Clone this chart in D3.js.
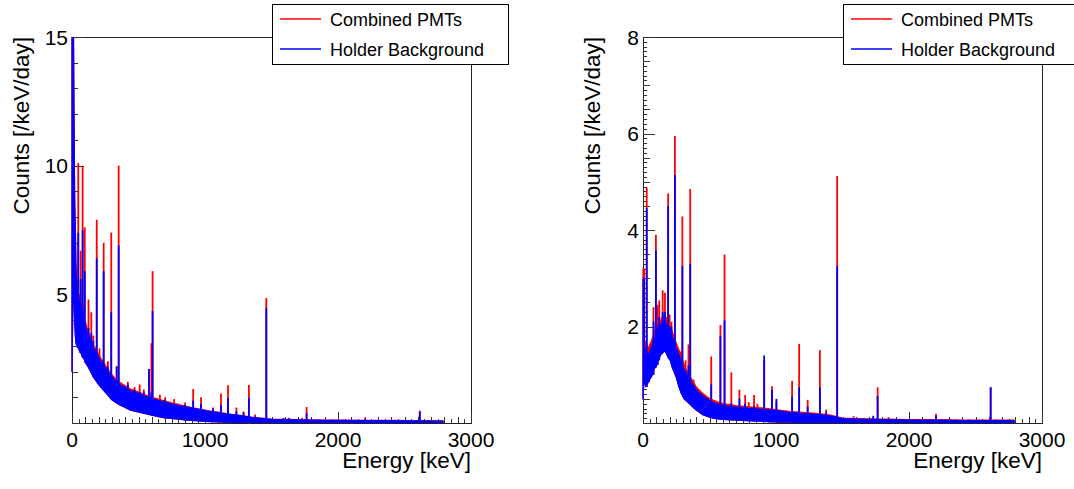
<!DOCTYPE html>
<html>
<head>
<meta charset="utf-8">
<script src="https://d3js.org/d3.v7.min.js"></script>
<style>
  body { margin: 0; background: #fff; }
  text { font-family: "Liberation Sans", Arial, Helvetica, sans-serif; fill: #000; }
</style>
</head>
<body>
<div id="chart"></div>
<script>
// ---------- left pad: continuum band (energy in keV, counts /keV/day) ----------
const leftEnergy = [0, 5, 10, 15, 20, 25, 30, 40, 50, 60, 70, 80, 90, 100, 120, 140, 160, 180, 200, 225,
  250, 275, 300, 330, 360, 400, 440, 480, 520, 560, 600, 650, 700, 750, 800, 850, 900, 950, 1000, 1050,
  1100, 1150, 1200, 1250, 1300, 1350, 1400, 1460, 1500, 1600, 1700, 1800, 1900, 2000, 2200, 2400, 2600, 2790];
const leftBandLow = [2.0, 4.0, 5.5, 5.0, 4.0, 3.4, 3.1, 2.95, 2.9, 2.75, 2.7, 2.55, 2.5, 2.35, 2.2, 2.0, 1.8, 1.65, 1.5, 1.35,
  1.2, 1.05, 0.9, 0.8, 0.7, 0.6, 0.5, 0.45, 0.4, 0.35, 0.3, 0.25, 0.2, 0.18, 0.15, 0.12, 0.1, 0.08, 0.06, 0.05,
  0.04, 0.03, 0.03, 0.02, 0.02, 0.01, 0.01, 0, 0, 0, 0, 0, 0, 0, 0, 0, 0, 0];
const leftBlueHigh = [16, 16, 16, 12, 8.5, 7.5, 5.8, 5.2, 4.6, 4.8, 4.3, 4.4, 3.9, 3.8, 3.4, 3.2, 2.9, 2.8, 2.55, 2.35,
  2.15, 1.95, 1.8, 1.62, 1.5, 1.38, 1.25, 1.18, 1.1, 1.02, 0.95, 0.88, 0.8, 0.74, 0.68, 0.63, 0.58, 0.53, 0.48, 0.43,
  0.4, 0.36, 0.33, 0.3, 0.26, 0.22, 0.19, 0.16, 0.14, 0.13, 0.12, 0.11, 0.1, 0.1, 0.09, 0.09, 0.08, 0.07];
const leftRedHigh = [16, 16, 16, 12.5, 9, 7.8, 6.2, 5.5, 4.9, 5.0, 4.5, 4.6, 4.1, 3.95, 3.55, 3.35, 3.0, 2.9, 2.65, 2.45,
  2.25, 2.05, 1.88, 1.7, 1.58, 1.45, 1.32, 1.24, 1.16, 1.08, 1.0, 0.93, 0.85, 0.78, 0.72, 0.66, 0.6, 0.55, 0.5, 0.45,
  0.42, 0.38, 0.34, 0.31, 0.27, 0.23, 0.2, 0.17, 0.15, 0.14, 0.13, 0.12, 0.11, 0.11, 0.1, 0.1, 0.09, 0.08];

// left pad: gamma lines
const leftPeakEnergy = [47, 65, 80, 96, 124, 145, 160, 186, 207, 238, 258, 270, 295, 336, 351, 420, 470, 509, 540, 579,
  597, 606, 661, 700, 768, 795, 835, 850, 911, 970, 1060, 1120, 1173, 1236, 1290, 1330, 1377, 1461, 1590, 1630,
  1730, 1764, 2204, 2615];
const leftPeakRed = [10.1, 6.7, 10.0, 7.6, 4.8, 4.3, 3.4, 7.9, 2.9, 7.0, 1.8, 2.4, 7.4, 2.2, 10.0, 1.6, 1.4, 1.5, 1.3, 2.1,
  3.1, 5.9, 1.1, 1.0, 0.93, 0.76, 0.7, 0.8, 1.32, 1.0, 0.6, 1.15, 1.47, 0.6, 0.45, 1.48, 0.33, 4.86, 0.2, 0.2,
  0.2, 0.62, 0.2, 0.48];
const leftPeakBlue = [7.4, 5.6, 7.5, 5.9, 3.7, 3.5, 3.2, 6.4, 2.4, 5.9, 1.6, 2.2, 4.3, 2.2, 6.9, 1.5, 1.3, 1.2, 1.2, 2.1,
  1.2, 4.35, 0.85, 0.9, 0.75, 0.6, 0.55, 0.7, 0.87, 0.75, 0.55, 0.7, 0.98, 0.45, 0.4, 0.98, 0.25, 4.48, 0.18, 0.18,
  0.15, 0.38, 0.14, 0.44];

// ---------- right pad ----------
const rightEnergy = [0, 5, 10, 20, 30, 40, 50, 60, 70, 80, 90, 100, 115, 130, 145, 160, 175, 190, 205, 220,
  235, 250, 270, 290, 310, 330, 350, 375, 400, 425, 450, 490, 530, 580, 630, 700, 780, 860, 940, 1020,
  1100, 1200, 1300, 1400, 1460, 1500, 1600, 1800, 2000, 2200, 2400, 2600, 2790];
const rightBandLow = [0.5, 0.8, 0.9, 0.75, 0.8, 0.85, 0.9, 0.95, 1.0, 1.1, 1.15, 1.2, 1.3, 1.4, 1.45, 1.5, 1.45, 1.35, 1.3, 1.15,
  1.05, 0.95, 0.75, 0.6, 0.5, 0.45, 0.4, 0.33, 0.27, 0.22, 0.17, 0.13, 0.1, 0.08, 0.07, 0.06, 0.05, 0.04, 0.03, 0.02,
  0.02, 0.01, 0.01, 0, 0, 0, 0, 0, 0, 0, 0, 0, 0];
const rightBlueHigh = [3.0, 2.0, 1.6, 1.5, 1.45, 1.4, 1.48, 1.55, 1.62, 1.7, 1.78, 1.85, 1.92, 2.0, 2.08, 2.12, 2.05, 1.97, 1.9, 1.78,
  1.66, 1.55, 1.42, 1.25, 1.1, 1.0, 0.9, 0.8, 0.69, 0.62, 0.56, 0.48, 0.42, 0.38, 0.35, 0.33, 0.31, 0.29, 0.27, 0.25,
  0.22, 0.2, 0.18, 0.15, 0.12, 0.09, 0.08, 0.07, 0.06, 0.06, 0.05, 0.05, 0.05];
const rightRedHigh = [3.2, 2.2, 1.75, 1.62, 1.6, 1.55, 1.62, 1.68, 1.75, 1.85, 1.92, 2.0, 2.05, 2.12, 2.2, 2.25, 2.18, 2.1, 2.02, 1.9,
  1.78, 1.66, 1.52, 1.35, 1.2, 1.08, 0.98, 0.87, 0.75, 0.68, 0.61, 0.53, 0.47, 0.42, 0.39, 0.36, 0.34, 0.32, 0.3, 0.27,
  0.24, 0.22, 0.2, 0.17, 0.13, 0.1, 0.09, 0.08, 0.07, 0.07, 0.06, 0.06, 0.06];

const rightPeakEnergy = [8, 28, 46, 62, 79, 97, 110, 122, 148, 165, 189, 200, 214, 240, 285, 296, 320, 342, 355, 380,
  513, 582, 613, 664, 725, 768, 795, 835, 860, 911, 970, 1003, 1121, 1174, 1238, 1330, 1377, 1460, 1583, 1731,
  1764, 1847, 2203, 2614];
const rightPeakRed = [3.2, 4.88, 1.5, 1.65, 2.4, 3.9, 2.45, 2.54, 2.75, 2.7, 4.76, 2.25, 2.1, 5.95, 1.48, 4.28, 1.3, 1.63, 4.85, 0.9,
  1.38, 2.03, 3.49, 1.05, 0.69, 0.58, 0.43, 0.58, 0.4, 1.3, 0.76, 0.45, 0.87, 1.64, 0.48, 1.51, 0.28, 5.12, 0.14, 0.12,
  0.74, 0.12, 0.19, 0.74];
const rightPeakBlue = [3.0, 4.45, 1.3, 1.4, 2.1, 3.58, 2.0, 2.2, 2.3, 2.3, 4.5, 2.0, 2.0, 5.14, 1.3, 3.25, 1.1, 1.2, 3.3, 0.75,
  0.8, 1.8, 2.13, 0.41, 0.5, 0.4, 0.3, 0.35, 0.3, 1.4, 0.69, 0.5, 0.55, 0.74, 0.34, 0.74, 0.22, 3.25, 0.1, 0.15,
  0.56, 0.08, 0.15, 0.74];

// ---------- axes ----------
const xTickValues = [0, 1000, 2000, 3000];
const xTickLabels = ["0", "1000", "2000", "3000"];
const leftYTicks = [5, 10, 15];
const rightYTicks = [2, 4, 6, 8];
const seriesNames = ["Combined PMTs", "Holder Background"];

const RED = "#ff0000", BLUE = "#0000ff";
const W = 1074, H = 489;
const plotTop = 37, plotBottom = 423, plotW = 399;

const svg = d3.select("#chart").append("svg")
  .attr("width", W).attr("height", H)
  .style("display", "block");
svg.append("rect").attr("width", W).attr("height", H).attr("fill", "#fff");

function zip(energy, low, high) {
  return energy.map((e, i) => ({ e: e, lo: low[i], hi: high[i] }));
}

function drawPad(p) {
  const x = d3.scaleLinear().domain([0, 3000]).range([p.left, p.left + plotW]);
  const y = d3.scaleLinear().domain([0, p.yMax]).range([plotBottom, plotTop]);
  const g = svg.append("g");

  // frame
  g.append("rect")
    .attr("x", x(0) + 0.5).attr("y", y(p.yMax) + 0.5)
    .attr("width", plotW).attr("height", plotBottom - plotTop)
    .attr("fill", "none").attr("stroke", "#222").attr("stroke-width", 1);

  // x ticks (inside the frame, pointing up)
  const xt = g.append("g").attr("stroke", "#333").attr("stroke-width", 1);
  d3.range(0, 3001, 50).forEach(v => {
    const len = v % 1000 === 0 ? 11 : (v % 100 === 0 ? 6 : 4);
    xt.append("line")
      .attr("x1", Math.round(x(v)) + 0.5).attr("x2", Math.round(x(v)) + 0.5)
      .attr("y1", plotBottom).attr("y2", plotBottom - len);
  });

  // y ticks (inside, pointing right)
  const yt = g.append("g").attr("stroke", "#333").attr("stroke-width", 1);
  const steps = p.yTickSteps;
  const fine = steps[steps.length - 1];
  const n = Math.round(p.yMax / fine);
  for (let i = 0; i <= n; i++) {
    const v = i * fine;
    let len = p.yTickLens[steps.length - 1];
    for (let k = 0; k < steps.length; k++) {
      if (Math.abs(v / steps[k] - Math.round(v / steps[k])) < 1e-6) { len = p.yTickLens[k]; break; }
    }
    yt.append("line")
      .attr("x1", x(0)).attr("x2", x(0) + len)
      .attr("y1", Math.round(y(v)) + 0.5).attr("y2", Math.round(y(v)) + 0.5);
  }

  // tick labels
  g.selectAll(".xl").data(xTickValues).enter().append("text")
    .attr("x", d => x(d)).attr("y", 447)
    .attr("text-anchor", "middle").attr("font-size", 21)
    .text((d, i) => xTickLabels[i]);
  g.selectAll(".yl").data(p.yTicks).enter().append("text")
    .attr("x", x(0) - 4).attr("y", d => y(d)).attr("dy", "0.36em")
    .attr("text-anchor", "end").attr("font-size", 21)
    .text(d => d);

  // axis titles
  g.append("text")
    .attr("x", x(3000)).attr("y", 468)
    .attr("text-anchor", "end").attr("font-size", 22.5)
    .text("Energy [keV]");
  g.append("text")
    .attr("transform", `translate(${x(0) - 43},${plotTop}) rotate(-90)`)
    .attr("text-anchor", "end").attr("font-size", 22.5)
    .text("Counts [/keV/day]");

  // data
  const clipId = "clip-" + p.id;
  svg.append("clipPath").attr("id", clipId).append("rect")
    .attr("x", x(0) - 1).attr("y", plotTop)
    .attr("width", plotW + 2).attr("height", plotBottom - plotTop);
  const d = g.append("g").attr("clip-path", `url(#${clipId})`);

  const area = d3.area()
    .x(v => x(v.e)).y0(v => y(v.lo)).y1(v => y(v.hi))
    .curve(d3.curveLinear);
  const baseAt = e => {
    const i = Math.max(0, d3.bisectRight(p.energy, e) - 1);
    return p.low[i];
  };

  const drawSeries = (high, peaksE, peaksV, color) => {
    d.append("path").datum(zip(p.energy, p.low, high))
      .attr("d", area).attr("fill", color)
      .attr("stroke", color).attr("stroke-width", 1.2).attr("stroke-linejoin", "round");
    d.selectAll(null).data(peaksE).enter().append("line")
      .attr("x1", e => x(e)).attr("x2", e => x(e))
      .attr("y1", e => y(baseAt(e)))
      .attr("y2", (e, i) => y(peaksV[i]))
      .attr("stroke", color).attr("stroke-width", 1.8);
  };
  drawSeries(p.redHigh, p.peakE, p.peakRed, RED);
  drawSeries(p.blueHigh, p.peakE, p.peakBlue, BLUE);

  // legend
  const lx = x(0) + 200, ly = 4, lw = 236, lh = 60;
  const lg = g.append("g");
  lg.append("rect").attr("x", lx + 0.5).attr("y", ly + 0.5)
    .attr("width", lw).attr("height", lh)
    .attr("fill", "#fff").attr("stroke", "#000").attr("stroke-width", 1);
  [RED, BLUE].forEach((c, i) => {
    const cy = ly + 15 + i * 30;
    lg.append("line").attr("x1", lx + 8).attr("x2", lx + 49)
      .attr("y1", cy).attr("y2", cy)
      .attr("stroke", c).attr("stroke-width", 1.5);
    lg.append("text").attr("x", lx + 58).attr("y", cy + 6.5)
      .attr("font-size", 18).text(seriesNames[i]);
  });
}

drawPad({
  id: "left", left: 72, yMax: 15,
  yTicks: leftYTicks, yTickSteps: [5, 1], yTickLens: [12, 6],
  energy: leftEnergy, low: leftBandLow,
  redHigh: leftRedHigh, blueHigh: leftBlueHigh,
  peakE: leftPeakEnergy, peakRed: leftPeakRed, peakBlue: leftPeakBlue
});
drawPad({
  id: "right", left: 643, yMax: 8,
  yTicks: rightYTicks, yTickSteps: [2, 0.5, 0.1], yTickLens: [12, 7, 4],
  energy: rightEnergy, low: rightBandLow,
  redHigh: rightRedHigh, blueHigh: rightBlueHigh,
  peakE: rightPeakEnergy, peakRed: rightPeakRed, peakBlue: rightPeakBlue
});
</script>
</body>
</html>
